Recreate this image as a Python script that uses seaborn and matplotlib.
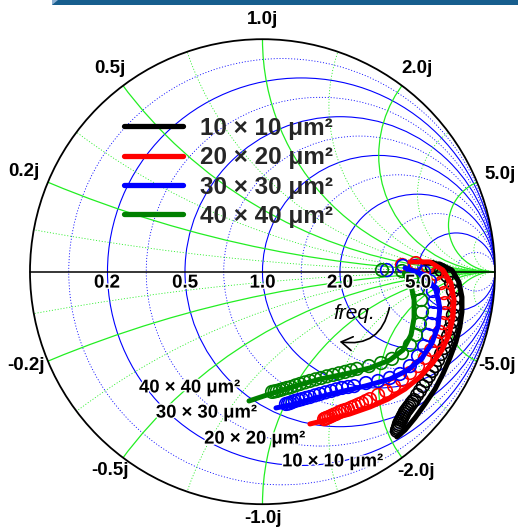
import numpy as np
import pandas as pd
import matplotlib
matplotlib.use("Agg")
import matplotlib.pyplot as plt
import seaborn as sns
from matplotlib.patches import Circle, Rectangle, Polygon, FancyArrowPatch
from matplotlib.lines import Line2D
import matplotlib.patheffects as pe

sns.set_theme(style="white")
plt.rcParams['font.family'] = ['Liberation Sans', 'DejaVu Sans']

# ---------------- data ----------------
devices = ["10 × 10 μm²", "20 × 20 μm²", "30 × 30 μm²", "40 × 40 μm²"]
colors = ["#000000", "#FF0000", "#0000FF", "#008000"]

# measured S11 (open circles): real / imag
meas_re_10 = [0.729, 0.768, 0.794, 0.811, 0.819, 0.824, 0.824, 0.819, 0.815, 0.806,
              0.798, 0.789, 0.781, 0.768, 0.755, 0.742, 0.729, 0.716, 0.703, 0.690,
              0.677, 0.665, 0.652, 0.645, 0.639, 0.632, 0.626, 0.620, 0.613, 0.609,
              0.604, 0.600, 0.596, 0.591, 0.587, 0.585, 0.583, 0.580, 0.578]
meas_im_10 = [0.020, 0.007, -0.018, -0.049, -0.083, -0.117, -0.152, -0.186, -0.216, -0.246,
              -0.277, -0.302, -0.328, -0.354, -0.380, -0.406, -0.427, -0.449, -0.470, -0.492,
              -0.513, -0.530, -0.552, -0.560, -0.569, -0.578, -0.586, -0.594, -0.603, -0.612,
              -0.621, -0.629, -0.638, -0.646, -0.655, -0.663, -0.672, -0.678, -0.685]

meas_re_20 = [0.600, 0.660, 0.712, 0.746, 0.768, 0.781, 0.785, 0.785, 0.776, 0.763,
              0.746, 0.725, 0.699, 0.669, 0.634, 0.600, 0.566, 0.531, 0.497, 0.462,
              0.445, 0.428, 0.413, 0.398, 0.383, 0.368, 0.355, 0.342, 0.329, 0.316,
              0.305, 0.295, 0.286, 0.277, 0.271, 0.265]
meas_im_20 = [0.029, 0.037, 0.020, -0.010, -0.049, -0.092, -0.135, -0.178, -0.221, -0.259,
              -0.298, -0.337, -0.371, -0.406, -0.436, -0.466, -0.492, -0.513, -0.530, -0.548,
              -0.556, -0.565, -0.571, -0.578, -0.584, -0.591, -0.595, -0.599, -0.605, -0.612,
              -0.616, -0.621, -0.625, -0.629, -0.631, -0.634]

meas_re_30 = [0.535, 0.604, 0.656, 0.695, 0.720, 0.733, 0.738, 0.733, 0.725, 0.712,
              0.695, 0.669, 0.634, 0.591, 0.548, 0.497, 0.445, 0.394, 0.368, 0.342,
              0.318, 0.295, 0.271, 0.247, 0.226, 0.204, 0.187, 0.170, 0.155, 0.140,
              0.129, 0.118, 0.110, 0.101]
meas_im_30 = [0.007, 0.025, 0.025, -0.001, -0.040, -0.083, -0.130, -0.178, -0.225, -0.272,
              -0.320, -0.363, -0.406, -0.440, -0.457, -0.470, -0.479, -0.492, -0.496, -0.500,
              -0.506, -0.513, -0.519, -0.526, -0.532, -0.539, -0.543, -0.548, -0.552, -0.556,
              -0.560, -0.565, -0.567, -0.569]

meas_re_40 = [0.514, 0.600, 0.643, 0.669, 0.682, 0.686, 0.677, 0.660, 0.634, 0.600,
              0.557, 0.510, 0.458, 0.406, 0.381, 0.355, 0.329, 0.303, 0.277, 0.252,
              0.228, 0.204, 0.183, 0.161, 0.142, 0.123, 0.105, 0.088, 0.075, 0.062,
              0.052, 0.041]
meas_im_40 = [0.007, 0.003, -0.031, -0.074, -0.122, -0.173, -0.225, -0.272, -0.315, -0.350,
              -0.375, -0.393, -0.406, -0.418, -0.424, -0.431, -0.437, -0.444, -0.450, -0.457,
              -0.463, -0.470, -0.476, -0.483, -0.489, -0.496, -0.500, -0.505, -0.509, -0.513,
              -0.515, -0.517]

# modelled S11 (thick lines): real / imag
model_re_10 = [0.699, 0.763, 0.815, 0.845, 0.858, 0.858, 0.849, 0.832, 0.806, 0.776, 0.742, 0.699, 0.656, 0.613, 0.578]
model_im_10 = [0.037, 0.033, 0.007, -0.044, -0.109, -0.173, -0.238, -0.302, -0.371, -0.440, -0.505, -0.569, -0.629, -0.681, -0.711]

model_re_20 = [0.634, 0.720, 0.776, 0.811, 0.824, 0.819, 0.802, 0.772, 0.729, 0.677, 0.613, 0.540, 0.462, 0.376, 0.290, 0.204]
model_im_20 = [0.042, 0.042, 0.007, -0.049, -0.122, -0.199, -0.272, -0.337, -0.397, -0.453, -0.505, -0.548, -0.582, -0.612, -0.634, -0.655]

model_re_30 = [0.613, 0.699, 0.746, 0.763, 0.755, 0.729, 0.686, 0.626, 0.548, 0.441, 0.333, 0.226, 0.140, 0.058]
model_im_30 = [0.016, -0.014, -0.079, -0.156, -0.234, -0.307, -0.371, -0.423, -0.462, -0.492, -0.517, -0.543, -0.569, -0.586]

model_re_40 = [0.609, 0.639, 0.652, 0.652, 0.639, 0.604, 0.548, 0.462, 0.355, 0.247, 0.140, 0.032, -0.058]
model_im_40 = [-0.006, -0.057, -0.122, -0.199, -0.272, -0.337, -0.380, -0.414, -0.440, -0.462, -0.492, -0.526, -0.556]

meas = [(meas_re_10, meas_im_10), (meas_re_20, meas_im_20), (meas_re_30, meas_im_30), (meas_re_40, meas_im_40)]
model = [(model_re_10, model_im_10), (model_re_20, model_im_20), (model_re_30, model_im_30), (model_re_40, model_im_40)]

# Smith chart grid values and labels
grid_vals = [1/11, 0.2, 1/3, 0.5, 5/7, 1.0, 1.4, 2.0, 3.0, 5.0, 11.0]
major_vals = [0.2, 0.5, 1.0, 2.0, 5.0]
real_labels = ["0.2", "0.5", "1.0", "2.0", "5.0"]
imag_labels = ["0.2j", "0.5j", "1.0j", "2.0j", "5.0j", "-0.2j", "-0.5j", "-1.0j", "-2.0j", "-5.0j"]

# ---------------- figure ----------------
fig = plt.figure(figsize=(5.18, 5.30), dpi=100)
ax = fig.add_axes([0, 0, 1, 1])
ax.set_xlim(-1.129, 1.099)
ax.set_ylim(-1.111, 1.1686)
ax.axis('off')

BLUE = "#0000FF"
GREEN = "#22EE22"
DOT = (0, (1.3, 2.2))

def is_major(v):
    return any(abs(v - m) < 1e-6 for m in major_vals)

clip = Circle((0, 0), 1.0, transform=ax.transData, fc='none', ec='none')
ax.add_patch(clip)

# resistance circles
for r in grid_vals:
    maj = is_major(r)
    c = Circle((r / (1 + r), 0), 1 / (1 + r), fill=False, ec=BLUE,
               lw=0.8 if maj else 0.6, ls='-' if maj else DOT, zorder=1)
    ax.add_patch(c)
    c.set_clip_path(clip)

# reactance arcs
for xv in grid_vals:
    maj = is_major(xv)
    for s in (1, -1):
        c = Circle((1, s / xv), 1 / xv, fill=False, ec=GREEN,
                   lw=0.9 if maj else 0.6, ls='-' if maj else DOT, zorder=1)
        ax.add_patch(c)
        c.set_clip_path(clip)

# outer circle and real axis
ax.add_patch(Circle((0, 0), 1.0, fill=False, ec='black', lw=1.3, zorder=2))
ax.plot([-1, 1], [0, 0], color='black', lw=1.1, zorder=2)

# data
for (mre, mim), (lre, lim), col, dev in zip(meas, model, colors, devices):
    sns.scatterplot(x=mre, y=mim, ax=ax, marker='o', s=82, facecolor='none',
                    edgecolor=col, linewidth=1.2, legend=False, zorder=3)
    sns.lineplot(x=lre, y=lim, ax=ax, sort=False, estimator=None, color=col,
                 lw=3.6, label=dev, zorder=4)

# legend
handles = [Line2D([0], [0], color=c, lw=3.8) for c in colors]
leg = ax.legend(handles, devices, loc='upper left', bbox_to_anchor=(124 / 518, 1 - 117 / 530),
                frameon=False, handlelength=2.43, handletextpad=0.7,
                labelspacing=0.26, borderpad=0, borderaxespad=0,
                prop={'weight': 'bold', 'size': 17.5})

halo = [pe.withStroke(linewidth=2.0, foreground='white')]

# real axis labels
real_pos = [(-0.669, -0.049), (-0.333, -0.049), (0.0, -0.049), (0.333, -0.049), (0.669, -0.049)]
for (px, py), t in zip(real_pos, real_labels):
    ax.text(px, py, t, ha='center', va='center', fontsize=13.5, fontweight='bold',
            color='black', zorder=6, path_effects=halo)

# reactance labels
imag_pos = [(-1.026, 0.433), (-0.656, 0.872), (0.002, 1.083), (0.665, 0.872), (1.022, 0.416),
            (-1.017, -0.402), (-0.656, -0.854), (0.002, -1.061), (0.660, -0.861), (1.009, -0.405)]
for (px, py), t in zip(imag_pos, imag_labels):
    ax.text(px, py, t, ha='center', va='center', fontsize=13.5, fontweight='bold',
            color='black', zorder=6)

# device labels inside
dev_pos = [(0.301, -0.818), (-0.034, -0.720), (-0.241, -0.608), (-0.314, -0.500)]
for (px, py), t in zip(dev_pos, devices):
    ax.text(px, py, t, ha='center', va='center', fontsize=13.3, fontweight='bold',
            color='black', zorder=6, path_effects=halo)

# frequency annotation
ax.text(0.394, -0.180, "freq.", ha='center', va='center', fontsize=15, style='italic',
        color='black', zorder=6)
arr = FancyArrowPatch((0.548, -0.143), (0.320, -0.299), connectionstyle="arc3,rad=-0.5",
                      arrowstyle='->,head_length=8,head_width=5', color='black', lw=1.2, zorder=6)
ax.add_patch(arr)

# top banner strip
fig.patches.append(Rectangle((52 / 518, 1 - 5 / 530), 1 - 52 / 518, 5 / 530, transform=fig.transFigure,
                             fc='#175E8E', ec='none', zorder=10))
fig.patches.append(Polygon([(52 / 518, 1 - 5 / 530), (52 / 518, 1.0), (58 / 518, 1.0)],
                           closed=True, transform=fig.transFigure, fc='#8DB0D3', ec='none', zorder=11))

fig.savefig("out.png", dpi=100)
